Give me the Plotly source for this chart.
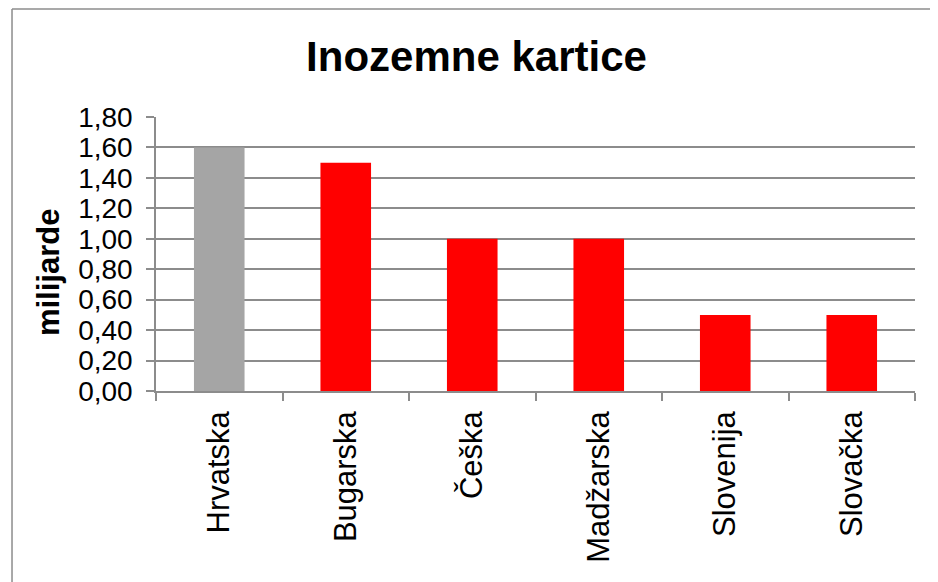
import plotly.graph_objects as go

countries = ["Hrvatska", "Bugarska", "Češka", "Madžarska", "Slovenija", "Slovačka"]
values = [1.6, 1.5, 1.0, 1.0, 0.5, 0.5]
bar_colors = ["#A5A5A5", "#FF0000", "#FF0000", "#FF0000", "#FF0000", "#FF0000"]
y_ticks = [0.0, 0.2, 0.4, 0.6, 0.8, 1.0, 1.2, 1.4, 1.6, 1.8]
y_tick_labels = [f"{v:.2f}".replace(".", ",") for v in y_ticks]

FONT = "Liberation Sans, Arial, sans-serif"
GRID = "#8C8C8C"

fig = go.Figure(
    go.Bar(
        x=countries,
        y=values,
        marker=dict(color=bar_colors, line_width=0),
    )
)

# the page body adds an 8px margin, so the figure is 8px smaller each way
fig.update_layout(
    width=930,
    height=574,
    margin=dict(l=148, r=23, t=109, b=191),
    paper_bgcolor="white",
    plot_bgcolor="white",
    bargap=0.6,
    showlegend=False,
    title=dict(
        text="<b>Inozemne kartice</b>",
        font=dict(family=FONT, size=42, color="black"),
        x=0.4223,
        xref="paper",
        xanchor="center",
        y=0.916,
        yref="container",
        yanchor="middle",
    ),
)

fig.update_xaxes(
    type="category",
    tickangle=-90,
    tickfont=dict(family=FONT, size=31, color="black"),
    showline=True,
    linecolor=GRID,
    linewidth=1.5,
    ticks="outside",
    tickson="boundaries",
    ticklen=8,
    tickcolor=GRID,
    tickwidth=1.5,
    ticklabelstandoff=6,
    showgrid=False,
)

fig.update_yaxes(
    range=[0, 1.8],
    tickvals=y_ticks,
    ticktext=y_tick_labels,
    tickfont=dict(family=FONT, size=28, color="black"),
    showline=True,
    linecolor=GRID,
    linewidth=1.5,
    ticks="outside",
    ticklen=8,
    tickcolor=GRID,
    tickwidth=1.5,
    ticklabelstandoff=8,
    showgrid=True,
    gridcolor=GRID,
    gridwidth=1.5,
    zeroline=False,
)

# axis title placed a little below the plot centre, as in the original
fig.add_annotation(
    text="<b>milijarde</b>",
    textangle=-90,
    font=dict(family=FONT, size=31, color="black"),
    xref="paper",
    yref="paper",
    x=-0.1423,
    y=0.434,
    showarrow=False,
    xanchor="center",
    yanchor="middle",
)

# chart frame (left and top edges visible, the rest runs off the page)
frame = dict(color=GRID, width=1.5)
fig.add_shape(type="line", xref="paper", yref="paper",
              x0=-0.1897, x1=-0.1897, y0=1.394, y1=-0.8, line=frame)
fig.add_shape(type="line", xref="paper", yref="paper",
              x0=-0.1897, x1=1.05, y0=1.394, y1=1.394, line=frame)

fig.write_html("out.html")
